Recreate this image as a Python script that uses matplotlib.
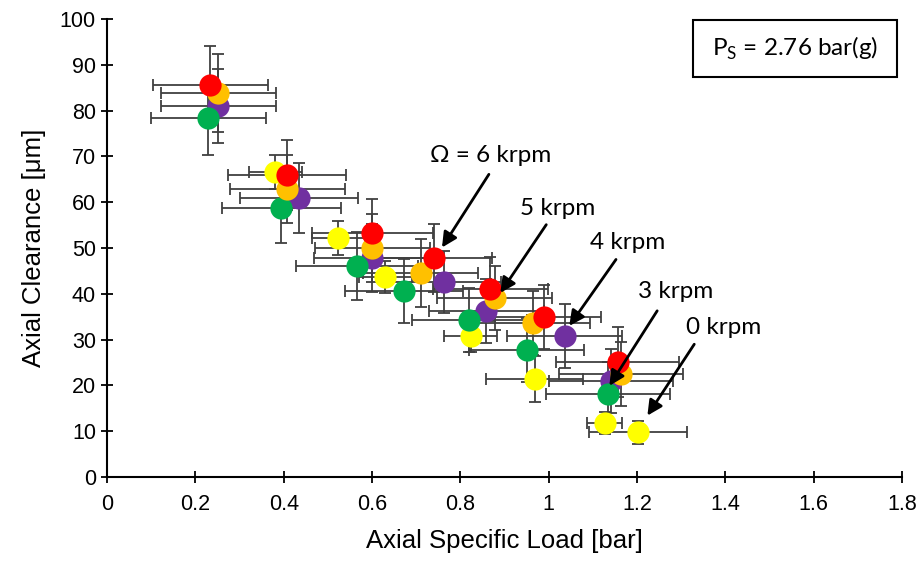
import numpy as np
import matplotlib
matplotlib.use("Agg")
import matplotlib.pyplot as plt
from matplotlib.patches import Rectangle

# Axial specific load [bar] and axial clearance [um] for each rotor speed
load_0 = [0.381, 0.524, 0.630, 0.823, 0.968, 1.127, 1.202]
clear_0 = [66.6, 52.2, 43.7, 30.8, 21.4, 11.8, 9.8]
xerr_0 = [0.06, 0.06, 0.06, 0.06, 0.11, 0.04, 0.11]
yerr_0 = [3.7, 3.7, 3.5, 3.5, 5.0, 2.5, 2.5]

load_3 = [0.252, 0.435, 0.599, 0.762, 0.859, 1.036, 1.141]
clear_3 = [81.0, 60.9, 47.8, 42.6, 36.2, 30.8, 21.0]
xerr_3 = [0.13, 0.134, 0.13, 0.13, 0.13, 0.13, 0.14]
yerr_3 = [8.0, 7.7, 7.5, 6.8, 7.0, 7.0, 7.0]

load_4 = [0.229, 0.395, 0.565, 0.673, 0.820, 0.950, 1.134]
clear_4 = [78.4, 58.7, 46.1, 40.6, 34.2, 27.7, 18.1]
xerr_4 = [0.13, 0.134, 0.138, 0.134, 0.13, 0.13, 0.14]
yerr_4 = [8.0, 7.7, 7.5, 7.0, 7.0, 7.0, 7.0]

load_5 = [0.252, 0.408, 0.601, 0.710, 0.878, 0.964, 1.163]
clear_5 = [83.8, 62.9, 50.0, 44.5, 39.0, 33.6, 22.5]
xerr_5 = [0.13, 0.13, 0.13, 0.13, 0.13, 0.13, 0.14]
yerr_5 = [8.5, 7.4, 7.4, 7.4, 7.0, 7.0, 7.0]

load_6 = [0.234, 0.408, 0.601, 0.741, 0.868, 0.989, 1.156]
clear_6 = [85.6, 65.9, 53.3, 47.8, 41.0, 35.0, 25.1]
xerr_6 = [0.13, 0.133, 0.136, 0.13, 0.13, 0.13, 0.14]
yerr_6 = [8.5, 7.7, 7.4, 7.4, 7.0, 7.0, 7.7]

series = [
    (load_0, clear_0, xerr_0, yerr_0, "#FFFF00"),
    (load_3, clear_3, xerr_3, yerr_3, "#7030A0"),
    (load_4, clear_4, xerr_4, yerr_4, "#00B050"),
    (load_5, clear_5, xerr_5, yerr_5, "#FFC000"),
    (load_6, clear_6, xerr_6, yerr_6, "#FF0000"),
]

# arrow labels: text, text position, arrow tail, arrow head (data coords)
labels = ["\u03a9 = 6 krpm", "5 krpm", "4 krpm", "3 krpm", "0 krpm"]
label_xy = [(0.868, 70.3), (1.02, 58.7), (1.179, 51.3), (1.288, 40.4), (1.395, 32.6)]
tail_xy = [(0.868, 66.6), (0.998, 55.6), (1.156, 48.0), (1.249, 36.8), (1.333, 29.5)]
head_xy = [(0.755, 49.6), (0.887, 39.7), (1.043, 32.5), (1.134, 19.4), (1.220, 12.9)]

fig = plt.figure(figsize=(9.17, 5.61), dpi=100)
ax = fig.add_axes([0.1167, 0.1497, 0.867, 0.8164])

for x, y, xe, ye, c in series:
    ax.errorbar(x, y, xerr=xe, yerr=ye, fmt="none", ecolor="#404040",
                elinewidth=1.3, capsize=4, capthick=1.3, zorder=1)
for x, y, xe, ye, c in series:
    ax.plot(x, y, "o", color=c, markersize=16, markeredgewidth=0, zorder=3)

for t, p, tl, hd in zip(labels, label_xy, tail_xy, head_xy):
    ax.annotate("", xy=hd, xytext=tl,
                arrowprops=dict(arrowstyle="-|>,head_length=0.9,head_width=0.45",
                                color="black", lw=2), zorder=4)
    ax.text(p[0], p[1], t, fontsize=17.5, family="Lato", ha="center", va="center")

ax.set_xlim(0, 1.8)
ax.set_ylim(0, 100)
ax.set_xticks(np.arange(0, 1.81, 0.2))
ax.set_xticklabels(["0", "0.2", "0.4", "0.6", "0.8", "1", "1.2", "1.4", "1.6", "1.8"])
ax.set_yticks(range(0, 101, 10))
ax.spines["top"].set_visible(False)
ax.spines["right"].set_visible(False)
ax.spines["left"].set_linewidth(1.5)
ax.spines["bottom"].set_linewidth(1.5)
ax.tick_params(direction="inout", length=9, width=1.3, labelsize=15.5)
ax.tick_params(axis="x", pad=8)
for lab in ax.get_xticklabels() + ax.get_yticklabels():
    lab.set_family("Liberation Sans")
ax.set_xlabel("Axial Specific Load [bar]", fontsize=18.5, family="Liberation Sans", labelpad=10)
ax.set_ylabel("Axial Clearance [\u03bcm]", fontsize=18.5, family="Liberation Sans", labelpad=10)

fig.patches.append(Rectangle((0.7557, 0.863), 0.2225, 0.101, transform=fig.transFigure,
                             fill=False, edgecolor="black", lw=1.5))
fig.text(0.867, 0.913, "P$_\\mathregular{S}$ = 2.76 bar(g)", fontsize=17.5, family="Lato",
         ha="center", va="center")

fig.savefig("out.png", dpi=100)
